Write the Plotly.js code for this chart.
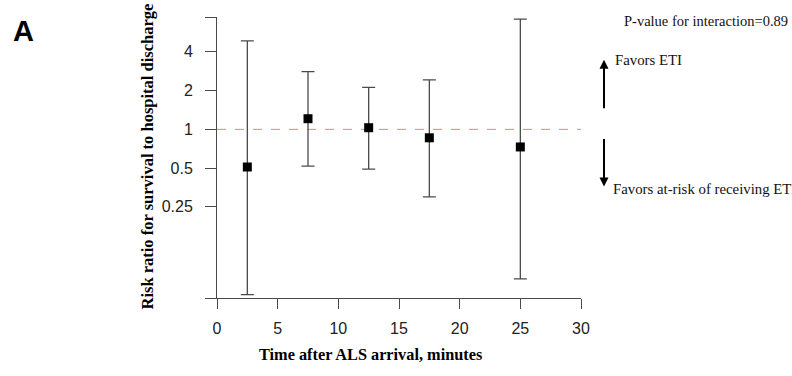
<!DOCTYPE html>
<html>
<head>
<meta charset="utf-8">
<script src="https://cdn.plot.ly/plotly-3.0.1.min.js"></script>
<style>html,body{margin:0;padding:0;background:#fff;overflow:hidden;}#chart{width:792px;height:376px;}</style>
</head>
<body>
<div id="chart"></div>
<script>
// Data
const timeMinutes = [2.5, 7.5, 12.5, 17.5, 25];
const riskRatio   = [0.51, 1.21, 1.03, 0.86, 0.73];
const ciUpper     = [4.87, 2.81, 2.12, 2.42, 7.17];
const ciLower     = [0.052, 0.518, 0.491, 0.299, 0.069];
const yTickVals   = [0.049, 0.25, 0.5, 1, 2, 4, 7.46];
const yTickText   = ['', '0.25', '0.5', '1', '2', '4', ''];
const xTickVals   = [0, 5, 10, 15, 20, 25, 30];
const referenceRR = 1;

const errPlus  = ciUpper.map((u, i) => u - riskRatio[i]);
const errMinus = riskRatio.map((r, i) => r - ciLower[i]);

const serif = 'Liberation Serif, Times New Roman, serif';
const sans  = 'Liberation Sans, Arial, sans-serif';
const axisColor = '#4a4a4a';

const trace = {
  x: timeMinutes,
  y: riskRatio,
  type: 'scatter',
  mode: 'markers',
  marker: {symbol: 'square', size: 9, color: '#000'},
  error_y: {
    type: 'data', symmetric: false,
    array: errPlus, arrayminus: errMinus,
    color: '#4a4a4a', thickness: 1.3, width: 6.5
  },
  cliponaxis: false,
  hoverinfo: 'x+y'
};

const layout = {
  width: 792, height: 376,
  margin: {l: 217, r: 211, t: 17, b: 78, pad: 0},
  paper_bgcolor: '#fff', plot_bgcolor: '#fff',
  showlegend: false,
  xaxis: {
    range: [0, 30], tickvals: xTickVals, ticktext: xTickVals.map(String),
    showgrid: false, zeroline: false, showline: true, linecolor: axisColor, linewidth: 1,
    ticks: 'outside', ticklen: 10, tickcolor: axisColor, tickwidth: 1,
    tickfont: {family: sans, size: 16, color: '#222'}, ticklabelstandoff: 6
  },
  yaxis: {
    type: 'log',
    range: [Math.log10(0.049), Math.log10(7.46)],
    tickvals: yTickVals, ticktext: yTickText,
    showgrid: false, zeroline: false, showline: true, linecolor: axisColor, linewidth: 1,
    ticks: 'outside', ticklen: 11, tickcolor: axisColor, tickwidth: 1,
    tickfont: {family: sans, size: 16, color: '#222'}, ticklabelstandoff: 9
  },
  shapes: [{
    type: 'line', xref: 'paper', x0: 0, x1: 1, yref: 'y', y0: referenceRR, y1: referenceRR,
    line: {color: 'rgba(225,120,120,0.9)', width: 1, dash: 'dash'}, layer: 'below'
  }],
  annotations: [
    {text: '<b>A</b>', xref: 'paper', yref: 'paper', x: (23 - 217) / 364, y: (298.3 - 30.5) / 281.6,
     xanchor: 'center', yanchor: 'middle', showarrow: false, font: {family: sans, size: 29, color: '#000'}},
    {text: '<b>Risk ratio for survival to hospital discharge</b>', xref: 'paper', yref: 'paper',
     x: (147.5 - 217) / 364, y: (298.3 - 157) / 281.6, textangle: -90,
     xanchor: 'center', yanchor: 'middle', showarrow: false, font: {family: serif, size: 16.5, color: '#000'}},
    {text: '<b>Time after ALS arrival, minutes</b>', xref: 'paper', yref: 'paper',
     x: (370.8 - 217) / 364, y: (298.3 - 355) / 281.6,
     xanchor: 'center', yanchor: 'middle', showarrow: false, font: {family: serif, size: 16.3, color: '#000'}},
    {text: 'P-value for interaction=0.89', xref: 'paper', yref: 'paper',
     x: (622 - 217) / 364, y: (298.3 - 21) / 281.6,
     xanchor: 'left', yanchor: 'middle', showarrow: false, font: {family: serif, size: 14.5, color: '#111'}},
    {text: 'Favors ETI', xref: 'paper', yref: 'paper',
     x: (613 - 217) / 364, y: (298.3 - 60) / 281.6,
     xanchor: 'left', yanchor: 'middle', showarrow: false, font: {family: serif, size: 14.8, color: '#111'}},
    {text: 'Favors at-risk of receiving ETI', xref: 'paper', yref: 'paper',
     x: (610.5 - 217) / 364, y: (298.3 - 189) / 281.6,
     xanchor: 'left', yanchor: 'middle', showarrow: false, font: {family: serif, size: 14.8, color: '#111'}},
    {text: '', xref: 'paper', yref: 'paper', x: (604 - 217) / 364, y: (298.3 - 59.5) / 281.6,
     ax: 0, ay: 50, showarrow: true, arrowhead: 2, arrowsize: 0.9, arrowwidth: 2, arrowcolor: '#000', standoff: 0},
    {text: '', xref: 'paper', yref: 'paper', x: (604 - 217) / 364, y: (298.3 - 186.5) / 281.6,
     ax: 0, ay: -49, showarrow: true, arrowhead: 2, arrowsize: 0.9, arrowwidth: 2, arrowcolor: '#000', standoff: 0}
  ]
};

Plotly.newPlot('chart', [trace], layout, {displayModeBar: false, staticPlot: true});
</script>
</body>
</html>
